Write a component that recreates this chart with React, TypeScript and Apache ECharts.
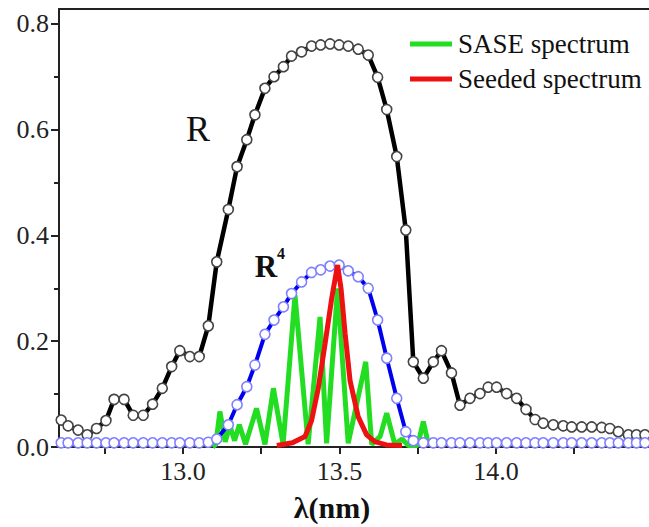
import React, { useEffect, useRef } from "react";
import * as echarts from "echarts";

// Wavelength samples (nm) shared by the R and R^4 curves
const xSamples = [
  12.611, 12.633, 12.665, 12.694, 12.724, 12.754, 12.78, 12.812, 12.841, 12.873,
  12.903, 12.934, 12.964, 12.99, 13.022, 13.052, 13.081, 13.108, 13.145, 13.173,
  13.204, 13.23, 13.262, 13.291, 13.321, 13.347, 13.379, 13.411, 13.44, 13.47,
  13.499, 13.528, 13.56, 13.592, 13.622, 13.651, 13.683, 13.712, 13.736, 13.768,
  13.8, 13.826, 13.858, 13.885, 13.917, 13.949, 13.975, 14.002, 14.034, 14.066,
  14.096, 14.125, 14.151, 14.183, 14.215, 14.242, 14.274, 14.306, 14.338, 14.364,
  14.391, 14.423, 14.449, 14.476,
];

// Reflectivity R
const rValues = [
  0.051, 0.04, 0.032, 0.023, 0.035, 0.05, 0.09, 0.09, 0.06, 0.06,
  0.081, 0.111, 0.152, 0.182, 0.171, 0.171, 0.229, 0.35, 0.449, 0.53,
  0.581, 0.628, 0.678, 0.7, 0.719, 0.739, 0.747, 0.758, 0.76, 0.762,
  0.76, 0.758, 0.752, 0.741, 0.699, 0.638, 0.549, 0.41, 0.161, 0.13,
  0.161, 0.182, 0.14, 0.079, 0.092, 0.101, 0.113, 0.113, 0.101, 0.092,
  0.071, 0.052, 0.045, 0.042, 0.04, 0.038, 0.038, 0.038, 0.037, 0.035,
  0.029, 0.023, 0.023, 0.023,
];

// R^4
const r4Values = [
  0.008, 0.008, 0.008, 0.008, 0.008, 0.008, 0.008, 0.008, 0.008, 0.008,
  0.008, 0.008, 0.008, 0.008, 0.008, 0.008, 0.009, 0.015, 0.042, 0.08,
  0.114, 0.155, 0.213, 0.24, 0.265, 0.29, 0.312, 0.33, 0.335, 0.342,
  0.344, 0.333, 0.322, 0.3, 0.24, 0.168, 0.092, 0.029, 0.012, 0.008,
  0.008, 0.008, 0.008, 0.008, 0.008, 0.008, 0.008, 0.008, 0.008, 0.008,
  0.008, 0.008, 0.008, 0.008, 0.008, 0.008, 0.008, 0.008, 0.008, 0.008,
  0.008, 0.008, 0.008, 0.008,
];

// SASE spectrum
const saseX = [
  13.095, 13.105, 13.118, 13.135, 13.15, 13.165, 13.18, 13.2, 13.235, 13.262,
  13.289, 13.32, 13.358, 13.4, 13.438, 13.459, 13.494, 13.528, 13.584, 13.603,
  13.63, 13.651, 13.677, 13.7, 13.72, 13.75, 13.768, 13.785,
];
const saseY = [
  0.0, 0.005, 0.067, 0.01, 0.04, 0.012, 0.042, 0.005, 0.073, 0.005,
  0.111, 0.005, 0.287, 0.005, 0.246, 0.007, 0.3, 0.007, 0.161, 0.005,
  0.02, 0.064, 0.005, 0.015, 0.003, 0.003, 0.048, 0.003,
];

// Seeded spectrum
const seededX = [
  13.3, 13.35, 13.39, 13.411, 13.432, 13.454, 13.475, 13.494, 13.505, 13.518,
  13.534, 13.56, 13.587, 13.613, 13.65, 13.7,
];
const seededY = [
  0.003, 0.008, 0.02, 0.05, 0.11, 0.195, 0.28, 0.344, 0.3, 0.215,
  0.125, 0.057, 0.023, 0.01, 0.004, 0.003,
];

const yTickLabels = [0, 0.2, 0.4, 0.6, 0.8];
const yMinorTicks = [0.1, 0.3, 0.5, 0.7];
const xTickLabels = [13.0, 13.5, 14.0];
const xAllTicks = [12.75, 13.0, 13.25, 13.5, 13.75, 14.0, 14.25];

const FONT = "Liberation Serif";

export default function App() {
  const ref = useRef<HTMLDivElement>(null);

  useEffect(() => {
    if (!ref.current) return;
    const chart = echarts.init(ref.current, undefined, { renderer: "svg" });

    const pairs = (xs: number[], ys: number[]) => xs.map((x, i) => [x, ys[i]]);

    const xMin = 12.604;
    const xMax = 14.489;
    const yMax = 0.828;

    chart.setOption({
      animation: false,
      backgroundColor: "#ffffff",
      textStyle: { fontFamily: FONT },
      grid: { left: 59, right: 0, top: 9, bottom: 80, containLabel: false },
      legend: {
        data: ["SASE spectrum", "Seeded spectrum"],
        orient: "vertical",
        left: 405,
        top: 24,
        itemWidth: 42,
        itemHeight: 5,
        itemGap: 5,
        icon: "rect",
        textStyle: {
          fontFamily: FONT,
          fontSize: 27,
          color: "#111",
          lineHeight: 30,
          padding: [0, 0, 0, 1],
        },
      },
      xAxis: [
        {
          type: "value",
          min: xMin,
          max: xMax,
          position: "bottom",
          splitLine: { show: false },
          axisLine: { show: true, onZero: false, lineStyle: { color: "#222", width: 2 } },
          axisTick: {
            show: true,
            inside: false,
            length: 7,
            customValues: xAllTicks,
            lineStyle: { color: "#222", width: 2 },
          },
          axisLabel: {
            show: true,
            customValues: xTickLabels,
            formatter: (v: number) => v.toFixed(1),
            fontFamily: FONT,
            fontSize: 26,
            color: "#222",
            margin: 11,
          },
        },
        {
          type: "value",
          min: xMin,
          max: xMax,
          position: "top",
          splitLine: { show: false },
          axisLine: { show: true, onZero: false, lineStyle: { color: "#222", width: 2 } },
          axisTick: { show: false },
          axisLabel: { show: false },
        },
      ],
      yAxis: [
        {
          type: "value",
          min: 0,
          max: yMax,
          position: "left",
          splitLine: { show: false },
          axisLine: { show: true, onZero: false, lineStyle: { color: "#222", width: 2 } },
          axisTick: {
            show: true,
            inside: false,
            length: 8,
            customValues: yTickLabels,
            lineStyle: { color: "#222", width: 2 },
          },
          axisLabel: {
            show: true,
            customValues: yTickLabels,
            formatter: (v: number) => v.toFixed(1),
            fontFamily: FONT,
            fontSize: 26,
            color: "#222",
            margin: 10,
          },
        },
        {
          type: "value",
          min: 0,
          max: yMax,
          position: "left",
          splitLine: { show: false },
          axisLine: { show: false },
          axisTick: {
            show: true,
            inside: false,
            length: 5,
            customValues: yMinorTicks,
            lineStyle: { color: "#222", width: 2 },
          },
          axisLabel: { show: false },
        },
      ],
      series: [
        {
          name: "R",
          type: "line",
          data: pairs(xSamples, rValues),
          z: 2,
          lineStyle: { color: "#000", width: 4.5 },
          symbol: "circle",
          symbolSize: 10,
          itemStyle: { color: "#ffffff", borderColor: "#444", borderWidth: 1.6 },
        },
        {
          name: "SASE spectrum",
          type: "line",
          data: pairs(saseX, saseY),
          z: 3,
          color: "#22dd22",
          lineStyle: { color: "#22dd22", width: 5 },
          itemStyle: { color: "#22dd22" },
          showSymbol: false,
          symbol: "none",
        },
        {
          name: "R4",
          type: "line",
          data: pairs(xSamples, r4Values),
          z: 4,
          lineStyle: { color: "#0000ee", width: 4 },
          symbol: "circle",
          symbolSize: 10,
          itemStyle: { color: "#ffffff", borderColor: "#8080ff", borderWidth: 1.6 },
        },
        {
          name: "Seeded spectrum",
          type: "line",
          data: pairs(seededX, seededY),
          z: 5,
          color: "#ee1111",
          lineStyle: { color: "#ee1111", width: 5 },
          itemStyle: { color: "#ee1111" },
          showSymbol: false,
          symbol: "none",
        },
      ],
      graphic: [
        {
          type: "text",
          x: 198,
          y: 129,
          style: {
            text: "R",
            font: `36px ${FONT}`,
            fill: "#111",
            textAlign: "center",
            textVerticalAlign: "middle",
          },
        },
        {
          type: "text",
          x: 266,
          y: 266,
          style: {
            text: "R",
            font: `bold 31px ${FONT}`,
            fill: "#111",
            textAlign: "center",
            textVerticalAlign: "middle",
          },
        },
        {
          type: "text",
          x: 281,
          y: 253,
          style: {
            text: "4",
            font: `bold 16px ${FONT}`,
            fill: "#111",
            textAlign: "center",
            textVerticalAlign: "middle",
          },
        },
        {
          type: "text",
          x: 332,
          y: 507,
          style: {
            text: "λ(nm)",
            font: `bold 30px ${FONT}`,
            fill: "#111",
            textAlign: "center",
            textVerticalAlign: "middle",
          },
        },
      ],
    });

    return () => {
      chart.dispose();
    };
  }, []);

  return (
    <div
      ref={ref}
      style={{ position: "fixed", left: 0, top: 0, width: 649, height: 527, background: "#fff" }}
    />
  );
}
